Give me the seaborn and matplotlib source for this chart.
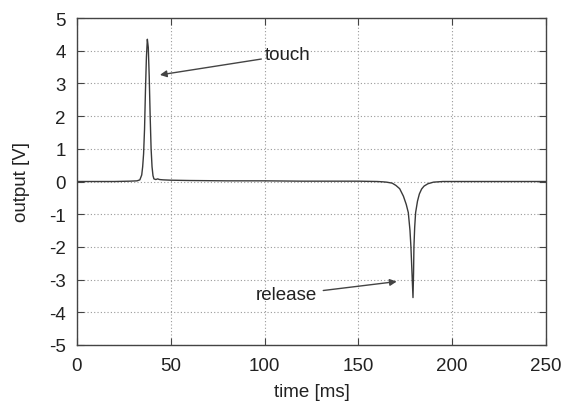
import matplotlib
matplotlib.use("Agg")
import matplotlib.pyplot as plt
import seaborn as sns
import pandas as pd

time_ms = [0, 10, 20, 28, 32, 33.5, 34.5, 35, 35.5, 36, 36.5, 37, 37.5, 38, 38.5,
           39, 39.5, 40, 40.5, 41, 42, 43, 44, 46, 50, 60, 80, 100, 120, 140,
           150, 160, 163, 165, 168, 170, 172, 174, 175.5, 176.6, 177.5, 178,
           178.5, 179.1, 179.4, 179.6, 180, 180.5, 181.5, 182.5, 183.7, 185,
           187, 190, 195, 200, 220, 250]
output_v = [0, 0, 0, 0.01, 0.02, 0.05, 0.2, 0.45, 0.85, 1.6, 2.8, 3.8, 4.35, 4.1, 3.2,
            2.0, 1.0, 0.45, 0.18, 0.08, 0.06, 0.08, 0.06, 0.05, 0.04, 0.03, 0.02, 0.02, 0.01, 0.01,
            0.01, 0.0, -0.01, -0.02, -0.05, -0.12, -0.22, -0.45, -0.7, -0.95, -1.5, -2.0,
            -2.7, -3.55, -2.8, -2.0, -1.4, -0.95, -0.6, -0.38, -0.23, -0.14,
            -0.07, -0.02, 0.0, 0.0, 0.0, 0.0]

x_ticks = [0, 50, 100, 150, 200, 250]
y_ticks = [-5, -4, -3, -2, -1, 0, 1, 2, 3, 4, 5]

df = pd.DataFrame({"time [ms]": time_ms, "output [V]": output_v})

sns.set_theme(style="white")
plt.rcParams["font.family"] = ["Liberation Sans", "DejaVu Sans"]

fs = 13.5
fig = plt.figure(figsize=(5.63, 4.02), dpi=100)
ax = fig.add_axes([77 / 563, 1 - 346 / 402, (546 - 77) / 563, (346 - 19) / 402])

sns.lineplot(data=df, x="time [ms]", y="output [V]", ax=ax, color="#3a3a3a",
             linewidth=1.0, estimator=None, sort=False)

ax.set_xlim(0, 250)
ax.set_ylim(-5, 5)
ax.set_xticks(x_ticks)
ax.set_yticks(y_ticks)
ax.set_xticklabels([str(t) for t in x_ticks], fontsize=fs, color="#222222")
ax.set_yticklabels([str(t) for t in y_ticks], fontsize=fs, color="#222222")
ax.set_xlabel("time [ms]", fontsize=fs, color="#222222", labelpad=6)
ax.set_ylabel("output [V]", fontsize=fs, color="#222222", labelpad=14)

ax.grid(True, linestyle=(0, (1, 2)), color="#999999", linewidth=0.8)
ax.tick_params(direction="in", length=5, width=0.8, color="#444444",
               top=True, right=True, bottom=True, left=True)
ax.tick_params(axis="x", pad=9)
ax.tick_params(axis="y", pad=8)
for s in ax.spines.values():
    s.set_color("#444444")
    s.set_linewidth(1.0)

ax.annotate("touch", xy=(44.2, 3.26), xytext=(100.0, 3.87),
            fontsize=fs, color="#222222", va="center", ha="left",
            arrowprops=dict(arrowstyle="-|>", color="#444444", lw=1.0,
                            shrinkA=0, shrinkB=0, mutation_scale=10))
ax.annotate("release", xy=(170.4, -3.06), xytext=(95.4, -3.47),
            fontsize=fs, color="#222222", va="center", ha="left",
            arrowprops=dict(arrowstyle="-|>", color="#444444", lw=1.0,
                            shrinkA=2, shrinkB=0, mutation_scale=10))

fig.savefig("out.png", dpi=100)
